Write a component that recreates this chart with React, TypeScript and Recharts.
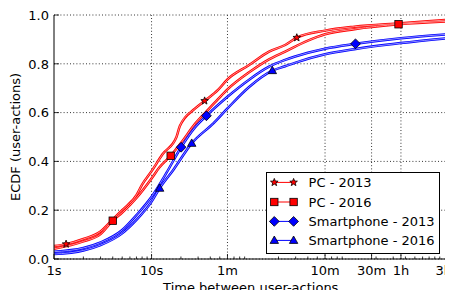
import React from 'react';
import { LineChart, Line, XAxis, YAxis, CartesianGrid, ReferenceLine, Legend } from 'recharts';

const FONT = '"DejaVu Sans", "Liberation Sans", sans-serif';

// ---- data (seconds between user-actions -> ECDF) ----
const pc2013Time = [1, 1.33, 2, 3, 4, 5, 5.6, 7, 8, 10, 13, 18, 19.5, 28, 35, 48, 60, 100, 160, 234, 308, 600, 1200, 3600, 10800];
const pc2013Ecdf = [0.053, 0.061, 0.082, 0.113, 0.162, 0.2, 0.218, 0.262, 0.305, 0.36, 0.43, 0.5, 0.545, 0.617, 0.648, 0.693, 0.736, 0.795, 0.85, 0.877, 0.907, 0.936, 0.952, 0.966, 0.98];
const pc2013Marks = [1.33, 35, 308];

const pc2016Time = [1, 2, 3, 4, 5, 7, 10, 12, 15.7, 20, 28, 37, 48, 60, 100, 160, 234, 400, 600, 1200, 3400, 10800];
const pc2016Ecdf = [0.042, 0.072, 0.102, 0.157, 0.19, 0.25, 0.33, 0.375, 0.423, 0.475, 0.555, 0.607, 0.655, 0.695, 0.765, 0.818, 0.85, 0.895, 0.921, 0.942, 0.962, 0.974];
const pc2016Marks = [4, 15.7, 3400];

const sm2013Time = [1, 2, 3, 5, 7, 10, 14.3, 20.1, 28, 36.5, 60, 100, 160, 234, 400, 600, 1231, 3600, 10800];
const sm2013Ecdf = [0.03, 0.045, 0.068, 0.119, 0.18, 0.255, 0.355, 0.458, 0.54, 0.587, 0.665, 0.735, 0.788, 0.816, 0.845, 0.862, 0.882, 0.905, 0.921];
const sm2013Marks = [20.1, 36.5, 1231];

const sm2016Time = [1, 2, 3, 5, 7, 10, 12.1, 16.7, 25.8, 43, 60, 100, 173, 234, 300, 600, 1200, 3600, 10800];
const sm2016Ecdf = [0.02, 0.035, 0.057, 0.105, 0.16, 0.235, 0.29, 0.365, 0.474, 0.556, 0.617, 0.705, 0.772, 0.79, 0.805, 0.839, 0.86, 0.885, 0.905];
const sm2016Marks = [12.1, 25.8, 173];

const xMajorTicks = [1, 10, 60, 600, 1800, 3600, 10800];
const xMajorLabels = ['1s', '10s', '1m', '10m', '30m', '1h', '3h'];
const xMinorTicks = [2, 3, 4, 5, 6, 7, 8, 9, 20, 30, 40, 50, 70, 80, 90, 200, 300, 400, 500, 700, 800, 900, 2000, 3000, 4000, 5000, 6000, 7000, 8000, 9000];
const yTicks = [0, 0.2, 0.4, 0.6, 0.8, 1.0];
const xGridTicks = [10, 60, 600, 1800, 3600];

// ---- layout ----
const W = 453;
const H = 298;
const M_TOP = 15;
const M_RIGHT = 5.5;
const X_AXIS_H = 39;
const Y_AXIS_W = 54;
const PLOT_BOTTOM = H - X_AXIS_H;
const PLOT_RIGHT = W - M_RIGHT;

type Kind = 'star' | 'square' | 'diamond' | 'triangle';

const build = (t: number[], v: number[], marks: number[]) =>
  t.map((tt, i) => ({ t: tt, v: v[i], mark: marks.includes(tt) }));

const series = [
  { name: 'PC - 2013', data: build(pc2013Time, pc2013Ecdf, pc2013Marks), color: '#ff0000', light: '#ff9e9e', marker: 'star' as Kind },
  { name: 'PC - 2016', data: build(pc2016Time, pc2016Ecdf, pc2016Marks), color: '#ff0000', light: '#ff9e9e', marker: 'square' as Kind },
  { name: 'Smartphone - 2013', data: build(sm2013Time, sm2013Ecdf, sm2013Marks), color: '#0000ff', light: '#9e9eff', marker: 'diamond' as Kind },
  { name: 'Smartphone - 2016', data: build(sm2016Time, sm2016Ecdf, sm2016Marks), color: '#0000ff', light: '#9e9eff', marker: 'triangle' as Kind },
];

function Marker({ kind, cx, cy }: { kind: Kind; cx: number; cy: number }) {
  const sw = 0.8;
  if (kind === 'star') {
    const pts: string[] = [];
    for (let i = 0; i < 10; i++) {
      const r = i % 2 === 0 ? 4.0 : 1.7;
      const a = -Math.PI / 2 + (i * Math.PI) / 5;
      pts.push(`${cx + r * Math.cos(a)},${cy + r * Math.sin(a)}`);
    }
    return <polygon points={pts.join(' ')} fill="#ff0000" stroke="#000" strokeWidth={sw} />;
  }
  if (kind === 'square') {
    return <rect x={cx - 3.7} y={cy - 3.7} width={7.4} height={7.4} fill="#ff0000" stroke="#000" strokeWidth={sw} />;
  }
  if (kind === 'diamond') {
    const r = 4.9;
    return <polygon points={`${cx},${cy - r} ${cx + r},${cy} ${cx},${cy + r} ${cx - r},${cy}`} fill="#0000ff" stroke="#000" strokeWidth={sw} />;
  }
  return <polygon points={`${cx},${cy - 4.4} ${cx + 4.2},${cy + 3} ${cx - 4.2},${cy + 3}`} fill="#0000ff" stroke="#000" strokeWidth={sw} />;
}

const XTickBottom = (props: any) => {
  const { x, y, payload } = props;
  const idx = xMajorTicks.indexOf(payload.value);
  const len = idx >= 0 ? 5 : 2.5;
  const isLast = idx === xMajorTicks.length - 1;
  return (
    <g>
      <line x1={x} x2={x} y1={y} y2={y - len} stroke="#000" strokeWidth={0.8} />
      {idx >= 0 && (
        <text x={isLast ? W - 1 : x} y={y + 16} textAnchor={isLast ? 'end' : 'middle'} fontSize={13} fontFamily={FONT} fill="#000">
          {xMajorLabels[idx]}
        </text>
      )}
    </g>
  );
};

const XTickTop = (props: any) => {
  const { x, y, payload } = props;
  const len = xMajorTicks.includes(payload.value) ? 5 : 2.5;
  return <line x1={x} x2={x} y1={y} y2={y + len} stroke="#000" strokeWidth={0.8} />;
};

const YTickLeft = (props: any) => {
  const { x, y, payload } = props;
  return (
    <g>
      <line x1={x} x2={x + 5} y1={y} y2={y} stroke="#000" strokeWidth={0.8} />
      <text x={x - 5} y={y + 4.7} textAnchor="end" fontSize={13} fontFamily={FONT} fill="#000">
        {Number(payload.value).toFixed(1)}
      </text>
    </g>
  );
};

const YTickRight = (props: any) => {
  const { x, y } = props;
  return <line x1={x} x2={x - 5} y1={y} y2={y} stroke="#000" strokeWidth={0.8} />;
};

const renderLegend = (props: any) => {
  const payload = (props.payload || []).filter((p: any) => series.some((s) => s.name === p.value));
  const rowY = [9.4, 29, 48.4, 67.4];
  return (
    <div style={{ width: 174, height: 82, boxSizing: 'border-box', border: '1px solid #000', background: '#fff' }}>
      <svg width={172} height={80} style={{ display: 'block' }}>
        {payload.map((p: any, i: number) => {
          const s = series.find((ss) => ss.name === p.value)!;
          const cy = rowY[i];
          return (
            <g key={s.name}>
              <line x1={7.3} x2={26.6} y1={cy} y2={cy} stroke={s.color} strokeWidth={1} />
              <Marker kind={s.marker} cx={7.3} cy={cy} />
              <Marker kind={s.marker} cx={26.6} cy={cy} />
              <text x={41.6} y={cy + 4.7} fontSize={13} fontFamily={FONT} fill="#000">
                {s.name}
              </text>
            </g>
          );
        })}
      </svg>
    </div>
  );
};

const xLabel = () => (
  <text x={(Y_AXIS_W + PLOT_RIGHT) / 2} y={PLOT_BOTTOM + 33} textAnchor="middle" fontSize={13} fontFamily={FONT} fill="#000">
    Time between user-actions
  </text>
);

const yLabel = () => {
  const cx = 20;
  const cy = (M_TOP + PLOT_BOTTOM) / 2;
  return (
    <text x={cx} y={cy} transform={`rotate(-90, ${cx}, ${cy})`} textAnchor="middle" fontSize={13} fontFamily={FONT} fill="#000">
      ECDF (user-actions)
    </text>
  );
};

export default function App() {
  const allXTicks = [...xMajorTicks, ...xMinorTicks].sort((a, b) => a - b);
  return (
    <div style={{ margin: -8, width: W, height: H, background: '#fff' }}>
      <LineChart width={W} height={H} margin={{ top: M_TOP, right: M_RIGHT, bottom: 0, left: 0 }} style={{ fontFamily: FONT }}>
        <CartesianGrid vertical={false} stroke="#000" strokeWidth={0.8} strokeDasharray="1 2.2" />
        {xGridTicks.map((g) => (
          <ReferenceLine key={g} x={g} stroke="#000" strokeWidth={0.8} strokeDasharray="1 2.2" />
        ))}
        <XAxis
          dataKey="t"
          type="number"
          scale="log"
          domain={[1, 10800]}
          allowDataOverflow
          ticks={allXTicks}
          interval={0}
          height={X_AXIS_H}
          tickSize={0}
          tickMargin={0}
          tickLine={false}
          axisLine={{ stroke: '#000', strokeWidth: 1 }}
          tick={XTickBottom}
          label={xLabel}
        />
        <XAxis
          xAxisId="top"
          orientation="top"
          dataKey="t"
          type="number"
          scale="log"
          domain={[1, 10800]}
          allowDataOverflow
          ticks={allXTicks}
          interval={0}
          height={0}
          tickSize={0}
          tickMargin={0}
          tickLine={false}
          axisLine={{ stroke: '#000', strokeWidth: 1 }}
          tick={XTickTop}
        />
        <YAxis
          type="number"
          domain={[0, 1]}
          ticks={yTicks}
          interval={0}
          width={Y_AXIS_W}
          tickSize={0}
          tickMargin={0}
          tickLine={false}
          axisLine={{ stroke: '#000', strokeWidth: 1 }}
          tick={YTickLeft}
          label={yLabel}
        />
        <YAxis
          yAxisId="right"
          orientation="right"
          type="number"
          domain={[0, 1]}
          ticks={yTicks}
          interval={0}
          width={0}
          tickSize={0}
          tickMargin={0}
          tickLine={false}
          axisLine={{ stroke: '#000', strokeWidth: 1 }}
          tick={YTickRight}
        />
        {series.map((s) => (
          <Line
            key={s.name + '-outer'}
            name={s.name}
            data={s.data}
            dataKey="v"
            type="monotone"
            stroke={s.color}
            strokeWidth={2.5}
            dot={false}
            activeDot={false}
            isAnimationActive={false}
          />
        ))}
        {series.map((s) => (
          <Line
            key={s.name + '-inner'}
            name={s.name + ' inner'}
            legendType="none"
            data={s.data}
            dataKey="v"
            type="monotone"
            stroke={s.light}
            strokeWidth={0.9}
            activeDot={false}
            isAnimationActive={false}
            dot={(p: any) =>
              p.payload && p.payload.mark ? (
                <Marker key={`${s.name}-m-${p.index}`} kind={s.marker} cx={p.cx} cy={p.cy} />
              ) : (
                <g key={`${s.name}-n-${p.index}`} />
              )
            }
          />
        ))}
        <Legend
          layout="vertical"
          align="center"
          verticalAlign="middle"
          wrapperStyle={{ left: 266, top: 172, width: 174, height: 82 }}
          content={renderLegend}
        />
      </LineChart>
    </div>
  );
}
